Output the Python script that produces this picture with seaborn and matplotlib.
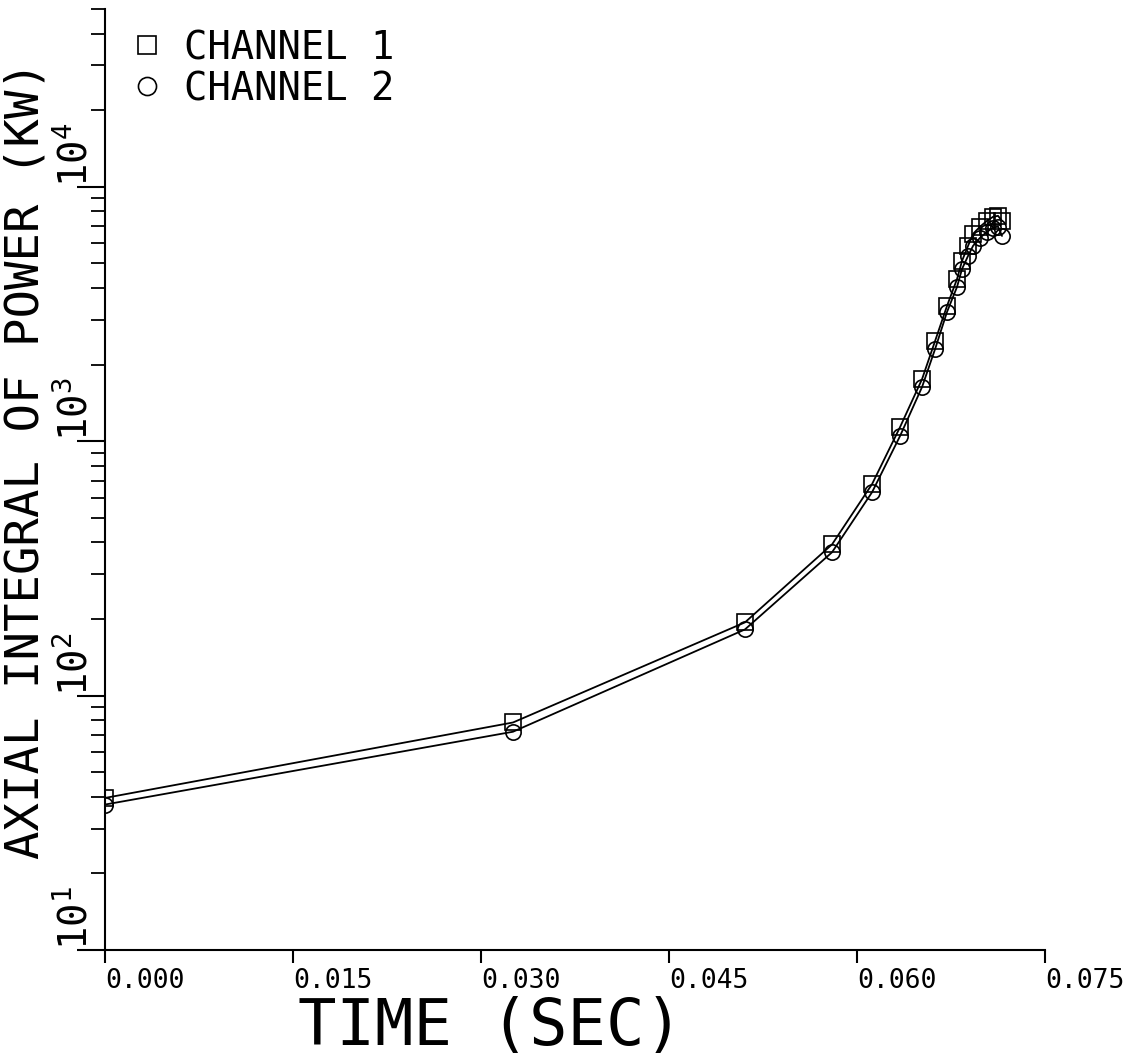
import numpy as np
import pandas as pd
import matplotlib
matplotlib.use("Agg")
import matplotlib.pyplot as plt
from matplotlib.lines import Line2D
from matplotlib.ticker import LogLocator, NullFormatter, FixedLocator
import seaborn as sns

# ---- data ----
time_sec = [0.0, 0.03255, 0.05106, 0.05801, 0.06120, 0.06343, 0.06519, 0.06623,
            0.06718, 0.06798, 0.06838, 0.06886, 0.06926, 0.06981, 0.07037,
            0.07085, 0.07125, 0.07157]
channel1_kw = [39.6, 78.4, 194, 393, 678, 1135, 1754, 2477, 3400, 4340, 5115,
               5860, 6535, 6965, 7350, 7620, 7690, 7350]
channel2_kw = [37.3, 72.1, 182, 366, 630, 1047, 1633, 2302, 3220, 4040, 4755,
               5350, 5860, 6300, 6655, 6900, 6980, 6410]
series_names = ["CHANNEL 1", "CHANNEL 2"]
x_ticks = [0.0, 0.015, 0.030, 0.045, 0.060, 0.075]
x_tick_labels = ["0.000", "0.015", "0.030", "0.045", "0.060", "0.075"]
y_ticks = [10, 100, 1000, 10000]
y_tick_labels = [r"$\mathregular{10^{1}}$", r"$\mathregular{10^{2}}$",
                 r"$\mathregular{10^{3}}$", r"$\mathregular{10^{4}}$"]
x_label = "TIME (SEC)"
y_label = "AXIAL INTEGRAL OF POWER (KW)"

df = pd.DataFrame({
    "time": time_sec * 2,
    "power": channel1_kw + channel2_kw,
    "channel": [series_names[0]] * len(time_sec) + [series_names[1]] * len(time_sec),
})

sns.set_style("ticks")
plt.rcParams["font.family"] = ["DejaVu Sans Mono", "DejaVu Sans"]
plt.rcParams["mathtext.fontset"] = "custom"
plt.rcParams["mathtext.rm"] = "DejaVu Sans Mono"
plt.rcParams["text.color"] = "black"
plt.rcParams["axes.labelcolor"] = "black"
plt.rcParams["xtick.color"] = "black"
plt.rcParams["ytick.color"] = "black"

fig = plt.figure(figsize=(11.34, 10.57), dpi=100)
ax = fig.add_axes([105 / 1134, 1 - 950 / 1057, 940 / 1134, 941 / 1057])

sns.lineplot(data=df, x="time", y="power", hue="channel", style="channel",
             markers={"CHANNEL 1": "s", "CHANNEL 2": "o"}, dashes=False,
             palette=["black", "black"], estimator=None, sort=False,
             markersize=11, markerfacecolor="none", markeredgecolor="black",
             markeredgewidth=1.2, linewidth=1.3, legend=False, ax=ax)

ax.set_yscale("log")
ax.set_xlim(0.0, 0.075)
ax.set_ylim(10, 50000)

ax.xaxis.set_major_locator(FixedLocator(x_ticks))
ax.set_xticklabels(x_tick_labels, fontsize=19)
for lab in ax.get_xticklabels():
    lab.set_ha("left")
ax.tick_params(axis="x", which="major", direction="out", length=9, width=1.5,
               pad=4, color="black")

ax.yaxis.set_major_locator(FixedLocator(y_ticks))
ax.yaxis.set_minor_locator(LogLocator(base=10, subs=np.arange(2, 10)))
ax.yaxis.set_minor_formatter(NullFormatter())
ax.set_yticklabels(y_tick_labels, fontsize=28)
for lab in ax.get_yticklabels():
    lab.set_rotation(90)
    lab.set_va("bottom")
    lab.set_ha("right")
ax.tick_params(axis="y", which="major", direction="out", length=20, width=1.5,
               pad=-13, color="black")
ax.tick_params(axis="y", which="minor", direction="out", length=10, width=1.3,
               color="black")

for s in ["top", "right"]:
    ax.spines[s].set_visible(False)
for s in ["left", "bottom"]:
    ax.spines[s].set_linewidth(1.5)
    ax.spines[s].set_color("black")

ax.set_xlabel(x_label, fontsize=46)
ax.xaxis.set_label_coords((490 - 105) / 940, -0.049)
ax.set_ylabel(y_label, fontsize=34)
ax.yaxis.set_label_coords((49 - 105) / 940, (950 - 460) / 941)

handles = [
    Line2D([], [], linestyle="none", marker="s", markersize=13,
           markerfacecolor="none", markeredgecolor="black", markeredgewidth=1.2),
    Line2D([], [], linestyle="none", marker="o", markersize=13,
           markerfacecolor="none", markeredgecolor="black", markeredgewidth=1.2),
]
ax.legend(handles, series_names, loc="upper left",
          bbox_to_anchor=((128 - 105) / 940, (950 - 29) / 941),
          frameon=False, fontsize=28, handlelength=1.0, handletextpad=0.45,
          borderaxespad=0, borderpad=0, labelspacing=0.08)

fig.savefig("out.png", dpi=100)
